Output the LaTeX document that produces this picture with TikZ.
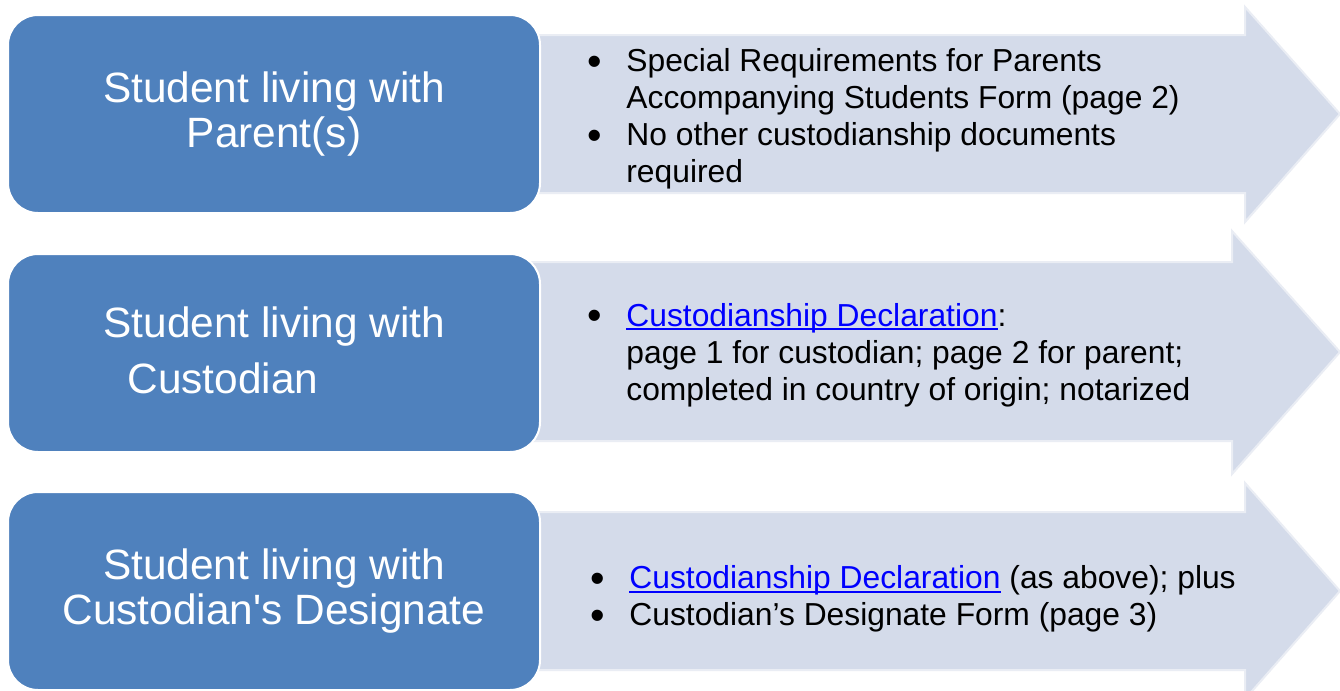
\documentclass[tikz,border=0pt]{standalone}
\usepackage{fontspec}
\setmainfont{Liberation Sans}
\usetikzlibrary{positioning}
\definecolor{boxblue}{HTML}{4F81BD}
\definecolor{arrowgray}{HTML}{D4DBEA}
\definecolor{linkblue}{HTML}{0000FF}
\newcommand{\bul}{\makebox[19.5pt][l]{\smash{\raisebox{-0.1em}{\scalebox{1.3}{\textbullet}}}}}
\newcommand{\doclink}[1]{\textcolor{linkblue}{\sbox0{#1}\rlap{\rule[-2pt]{\wd0}{1.1pt}}\usebox0}}

\begin{document}
\begin{tikzpicture}[x=0.5pt,y=-0.5pt,
        casebox/.style={fill=boxblue,draw=white,line width=1pt,rounded corners=15pt},
        docarrow/.style={fill=arrowgray,draw=white!50!arrowgray,line width=1pt},
        casetext/.style={text=white,inner sep=0pt,align=center,font=\fontsize{21.2}{22.5}\selectfont},
        doctext/.style={anchor=west,inner sep=0pt,font=\fontsize{15.9}{18.5}\selectfont}]
        \clip (0,0) rectangle (1340,691);
        \fill[white] (0,0) rectangle (1340,691);

        \draw[docarrow] (530,35)--(1245,35)--(1245,7)--(1340,114)--(1245,222)--(1245,193)--(530,193)--cycle;
        \draw[docarrow] (530,262)--(1232,262)--(1232,231)--(1340,352)--(1232,474)--(1232,441)--(530,441)--cycle;
        \draw[docarrow] (530,512)--(1245,512)--(1245,483)--(1340,591)--(1245,699)--(1245,670)--(530,670)--cycle;

        \draw[casebox] (8,15) rectangle (540,213);
        \draw[casebox] (8,254) rectangle (540,452);
        \draw[casebox] (8,492) rectangle (540,690);

        \node[casetext] (parents) at (274,114) {Student living with\\Parent(s)};
        \node[casetext,align=left,anchor=west] (custodian) at (103,350) {Student living with\\[5.5pt]\hspace*{12pt}Custodian};
        \node[casetext] (designate) at (274,591) {Student living with\\Custodian\textquotesingle s Designate};

        \node[doctext] (parentdocs) at (587,120) {\begin{tabular}{@{}l@{}l@{}}
            \bul & Special Requirements for Parents\\
                 & Accompanying Students Form (page 2)\\
            \bul & No other custodianship documents\\
                 & required
        \end{tabular}};
        \node[doctext] (custodiandocs) at (587,356) {\begin{tabular}{@{}l@{}l@{}}
            \bul & \doclink{Custodianship Declaration}:\\
                 & page 1 for custodian; page 2 for parent;\\
                 & completed in country of origin; notarized
        \end{tabular}};
        \node[doctext] (designatedocs) at (590,600) {\begin{tabular}{@{}l@{}l@{}}
            \bul & \doclink{Custodianship Declaration} (as above); plus\\
            \bul & Custodian’s Designate Form (page 3)
        \end{tabular}};

    \end{tikzpicture}
\end{document}
